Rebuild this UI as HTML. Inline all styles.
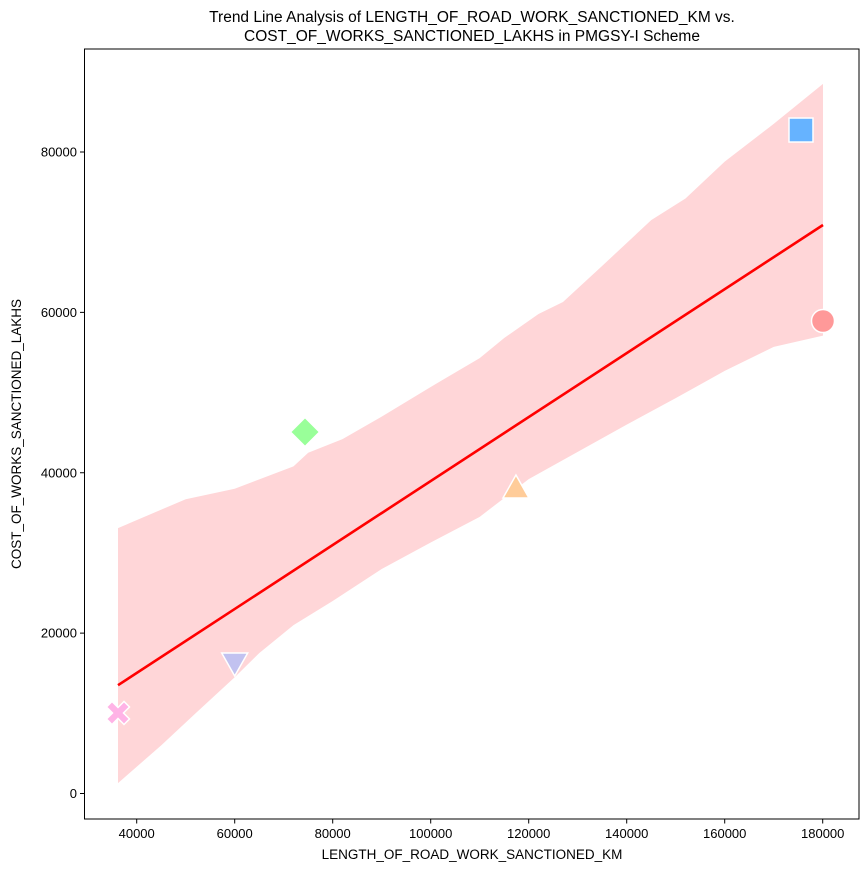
<!DOCTYPE html>
<html><head><meta charset="utf-8"><style>
body{margin:0;background:#fff;}
svg{display:block;font-family:"Liberation Sans","DejaVu Sans",sans-serif;}
</style></head><body>
<svg id="chart" width="868" height="872" viewBox="0 0 868 872" xmlns="http://www.w3.org/2000/svg">
<text x="472" y="22" font-size="15.5" text-anchor="middle">Trend Line Analysis of LENGTH_OF_ROAD_WORK_SANCTIONED_KM vs.</text>
<text x="472" y="41" font-size="15.5" text-anchor="middle">COST_OF_WORKS_SANCTIONED_LAKHS in PMGSY-I Scheme</text>
<g id="band"></g>
<g id="line"></g>
<g id="points"></g>
<rect x="84.5" y="49" width="774.5" height="770" fill="none" stroke="#000" stroke-width="1"/>
<g id="xticks"></g>
<g id="yticks"></g>
<text x="472" y="859" font-size="13.5" text-anchor="middle">LENGTH_OF_ROAD_WORK_SANCTIONED_KM</text>
<text transform="translate(21,434) rotate(-90)" font-size="13.5" text-anchor="middle">COST_OF_WORKS_SANCTIONED_LAKHS</text>
</svg>
<script>
const xVals=[36184,60000,74350,117400,175570,180060];
const yVals=[10040,16400,45080,37970,82740,58920];
const markers=["x","tri-down","diamond","tri-up","square","circle"];
const colors=["#ffb3e6","#c2c2f0","#99ff99","#ffcc99","#66b3ff","#ff9999"];
const bandUpperX=[36184,50000,60000,72000,75000,82000,90000,100000,110000,115000,122000,127000,135000,145000,152000,160000,170000,180060];
const bandUpperY=[33100,36700,38000,40800,42500,44200,47000,50700,54300,56800,59800,61300,65800,71500,74200,78800,83500,88500];
const bandLowerX=[36184,45000,52000,60000,65000,72000,80000,90000,100000,110000,120000,130000,140000,150000,160000,170000,180060];
const bandLowerY=[1300,6000,10000,14500,17500,21000,24000,28000,31300,34500,39200,42600,46000,49300,52700,55700,57100];
const xTicks=[40000,60000,80000,100000,120000,140000,160000,180000];
const yTicks=[0,20000,40000,60000,80000];
const NS="http://www.w3.org/2000/svg";
const X=v=>136.7+(v-40000)*0.0049;
const Y=v=>793.5-v*641.5/80000;
function mk(t,a,p){const e=document.createElementNS(NS,t);for(const k in a)e.setAttribute(k,a[k]);p.appendChild(e);return e;}
let d="M"+bandUpperX.map((x,i)=>X(x)+","+Y(bandUpperY[i])).join(" L");
for(let i=bandLowerX.length-1;i>=0;i--)d+=" L"+X(bandLowerX[i])+","+Y(bandLowerY[i]);
const band=mk("path",{d:d+"Z",fill:"#ffd6d8"},document.getElementById("band"));


const n=xVals.length,mx=xVals.reduce((a,b)=>a+b)/n,my=yVals.reduce((a,b)=>a+b)/n;
let sxy=0,sxx=0;for(let i=0;i<n;i++){sxy+=(xVals[i]-mx)*(yVals[i]-my);sxx+=(xVals[i]-mx)**2;}
const sl=sxy/sxx,x0=Math.min(...xVals),x1=Math.max(...xVals);
const ln=mk("line",{x1:X(x0),y1:Y(my+sl*(x0-mx)),x2:X(x1),y2:Y(my+sl*(x1-mx)),stroke:"#ff0000","stroke-width":2.6},document.getElementById("line"));


const pg=document.getElementById("points");
xVals.forEach((xv,i)=>{const cx=X(xv),cy=Y(yVals[i]),c=colors[i];let e;const st={fill:c,stroke:"#fff","stroke-width":1.5};
 const m=markers[i];
 if(m==="circle")e=mk("circle",Object.assign({cx,cy,r:11.5},st),pg);
 else if(m==="square")e=mk("rect",Object.assign({x:cx-12,y:cy-12,width:24,height:24},st),pg);
 else if(m==="diamond")e=mk("polygon",Object.assign({points:`${cx},${cy-14.5} ${cx+14.5},${cy} ${cx},${cy+14.5} ${cx-14.5},${cy}`},st),pg);
 else if(m==="tri-up")e=mk("polygon",Object.assign({points:`${cx},${cy-14} ${cx+13},${cy+9} ${cx-13},${cy+9}`},st),pg);
 else if(m==="tri-down")e=mk("polygon",Object.assign({points:`${cx},${cy+14} ${cx+13},${cy-9} ${cx-13},${cy-9}`},st),pg);
 else {const a=5.5,b=11.5;e=mk("polygon",Object.assign({points:[[-b,-b+a],[-b+a,-b],[0,-a],[b-a,-b],[b,-b+a],[a,0],[b,b-a],[b-a,b],[0,a],[-b+a,b],[-b,b-a],[-a,0]].map(p=>(cx+p[0])+","+(cy+p[1])).join(" ")},st),pg);}
 
 
});
const xg=document.getElementById("xticks");
xTicks.forEach(t=>{const x=X(t);const l=mk("line",{x1:x,y1:819,x2:x,y2:823.5,stroke:"#000"},xg);
 
 
 const tx=mk("text",{x:x,y:838,"font-size":13,"text-anchor":"middle"},xg);tx.textContent=t;
 
 });
const yg=document.getElementById("yticks");
yTicks.forEach(t=>{const y=Y(t);const l=mk("line",{x1:80,y1:y,x2:84.5,y2:y,stroke:"#000"},yg);
 
 
 const tx=mk("text",{x:77,y:y+4.5,"font-size":13,"text-anchor":"end"},yg);tx.textContent=t;
 
 });
</script>
</body></html>
